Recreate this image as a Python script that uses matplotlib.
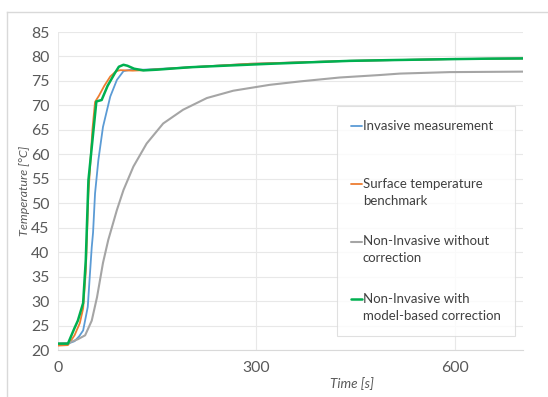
import matplotlib
matplotlib.use("Agg")
import matplotlib.pyplot as plt
from matplotlib.lines import Line2D
from matplotlib.legend_handler import HandlerLine2D

plt.rcParams['font.family'] = ['Lato', 'DejaVu Sans']

labels = ["Invasive measurement\n", "Surface temperature\nbenchmark",
          "Non-Invasive without\ncorrection", "Non-Invasive with\nmodel-based correction"]
colors = ["#5B9BD5", "#ED7D31", "#A5A5A5", "#00B050"]

time_blue = [0, 15, 25, 32, 38, 45, 48, 51, 53, 56, 61, 68, 79, 89, 99, 110, 130, 200, 290, 440, 590, 703]
temp_blue = [21.3, 21.3, 21.8, 22.8, 24, 28.8, 35, 41, 44, 52, 58.8, 65.6, 71.8, 75.2, 77.0, 77.3, 77.3, 77.8, 78.5, 79.1, 79.45, 79.6]

time_orange = [0, 15, 25, 33, 38, 42, 46, 52, 56, 62, 70, 79, 88, 94, 113, 130, 200, 290, 440, 590, 703]
temp_orange = [20.9, 21.0, 23, 25.5, 28.5, 36, 52, 65, 70.7, 72, 74, 75.9, 77.0, 77.2, 77.1, 77.2, 77.8, 78.5, 79.1, 79.45, 79.6]

time_gray = [0, 15, 30, 41, 51, 59, 68, 76, 89, 99, 114, 134, 159, 189, 225, 265, 320, 366, 426, 486, 517, 592, 703]
temp_gray = [21.3, 21.4, 22.2, 23, 26, 30.8, 37.8, 42.5, 48.6, 52.7, 57.5, 62.2, 66.3, 69.1, 71.5, 73.0, 74.2, 74.9, 75.7, 76.2, 76.5, 76.8, 76.9]

time_green = [0, 15, 25, 30, 38, 42, 46, 58, 66, 75, 86, 92, 99, 105, 115, 129, 150, 200, 250, 320, 380, 441, 500, 592, 650, 703]
temp_green = [21.3, 21.3, 24.5, 26, 29.6, 38.4, 54.7, 70.8, 71.1, 74, 76.6, 77.9, 78.3, 78.1, 77.5, 77.15, 77.3, 77.8, 78.1, 78.5, 78.8, 79.1, 79.25, 79.45, 79.55, 79.6]

x_ticks = [0, 300, 600]
y_ticks = list(range(20, 90, 5))


class FirstLineHandler(HandlerLine2D):
    """Draw the legend line level with the first text line of the label."""
    def __init__(self, dy, **kw):
        super().__init__(**kw)
        self.dy = dy

    def create_artists(self, legend, orig_handle, xdescent, ydescent, width,
                       height, fontsize, trans):
        arts = super().create_artists(legend, orig_handle, xdescent, ydescent,
                                      width, height, fontsize, trans)
        for a in arts:
            a.set_ydata([y + self.dy for y in a.get_ydata()])
        return arts


W, H = 548, 397
fig = plt.figure(figsize=(W / 100, H / 100), dpi=100)
fig.patch.set_facecolor("white")
renderer = fig.canvas.get_renderer()


def fit_size(s, target_px, **kw):
    t = fig.text(0, 0, s, fontsize=10, **kw)
    w = t.get_window_extent(renderer=renderer).width
    t.remove()
    return 10 * target_px / w


fs_leg = fit_size("Invasive measurement", 130)
fs_tick = fit_size("85", 18.5)
fs_xlab = fit_size("Time [s]", 44, style="italic")
fs_ylab = fit_size("Temperature [°C]", 90, style="italic")

border = "#D9D9D9"
fig.add_artist(Line2D([7 / W, 1], [1 - 12 / H, 1 - 12 / H], color=border, lw=1, transform=fig.transFigure))
fig.add_artist(Line2D([7 / W, 7 / W], [0, 1 - 12 / H], color=border, lw=1, transform=fig.transFigure))

ax = fig.add_axes([58 / W, 1 - 350 / H, 465 / W, 318 / H])
series = [(time_blue, temp_blue), (time_orange, temp_orange), (time_gray, temp_gray), (time_green, temp_green)]
widths = [1.3, 1.3, 1.5, 1.8]
handles = []
for (t, T), c, lw, lab in zip(series, colors, widths, labels):
    h, = ax.plot(t, T, color=c, lw=lw, label=lab, solid_joinstyle="round", solid_capstyle="round")
    handles.append(h)

ax.set_xlim(0, 703)
ax.set_ylim(20, 85)
ax.set_xticks(x_ticks)
ax.set_yticks(y_ticks)
ax.grid(True, color="#E8E8E8", lw=0.8)
ax.set_axisbelow(True)
for s in ["top", "right", "left"]:
    ax.spines[s].set_visible(False)
ax.spines["bottom"].set_color("#D9D9D9")
ax.tick_params(length=0, labelsize=fs_tick, colors="#595959")
ax.tick_params(axis="y", pad=6)
ax.tick_params(axis="x", pad=8)

ax.set_xlabel("Time [s]", fontsize=fs_xlab, style="italic", color="#595959")
ax.xaxis.set_label_coords(0.632, -0.085)
ax.set_ylabel("Temperature [°C]", fontsize=fs_ylab, style="italic", color="#595959")
ax.yaxis.set_label_coords(-0.06, 0.5)

line_pitch_px = 17.5
dy = line_pitch_px / 2 * 72 / 100
leg = ax.legend(handles=handles, loc="upper left", bbox_to_anchor=((337 - 58) / 465, (350 - 106) / 318),
                borderaxespad=0, frameon=True, fancybox=False, edgecolor="#D9D9D9",
                fontsize=fs_leg, labelcolor="#404040", handlelength=0.85, handletextpad=0.05,
                labelspacing=2.17, borderpad=1.05,
                handler_map={h: FirstLineHandler(dy) for h in handles})
leg.get_frame().set_linewidth(0.8)
for t in leg.get_texts():
    t.set_linespacing(1.5)

fig.savefig("out.png", dpi=100)
